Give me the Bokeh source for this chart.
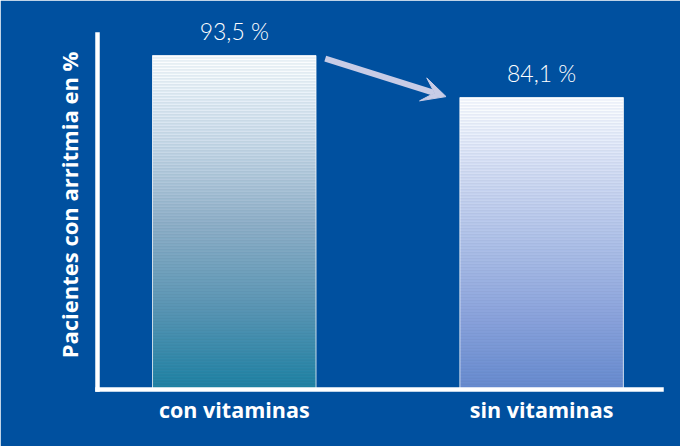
from bokeh.plotting import figure
from bokeh.models import Range1d, FixedTicker, Label, Arrow, VeeHead
from bokeh.embed import file_html
from bokeh.resources import INLINE

# ---- data ----
categories = ["con vitaminas", "sin vitaminas"]
values = [93.5, 84.1]
value_labels = ["93,5 %", "84,1 %"]
y_label = "Pacientes con arritmia en %"

BG = "#00509f"
Y0, Y1 = 18.75, 101.33
Y_AXIS_TOP = 98.2
BAR_W = 0.532
TOP_BORDER, BOTTOM_BORDER = 20, 57
FRAME_H = 446 - TOP_BORDER - BOTTOM_BORDER

# gradient stops (top -> bottom) per bar
stops = [
    [(250, 252, 254), (204, 218, 231), (142, 172, 196), (88, 145, 175), (24, 124, 158)],
    [(250, 252, 254), (208, 217, 238), (170, 188, 226), (134, 158, 214), (96, 132, 200)],
]


def interp(st, t):
    t = min(max(t, 0.0), 1.0)
    seg = t * (len(st) - 1)
    i = min(int(seg), len(st) - 2)
    f = seg - i
    a, b = st[i], st[i + 1]
    return tuple(a[k] + (b[k] - a[k]) * f for k in range(3))


def hexc(c):
    return "#%02x%02x%02x" % tuple(int(round(x)) for x in c)


p = figure(width=680, height=446, output_backend="svg", toolbar_location=None,
           x_range=Range1d(-0.445, 1.39), y_range=Range1d(Y0, Y1),
           min_border_left=97, min_border_right=19,
           min_border_top=TOP_BORDER, min_border_bottom=BOTTOM_BORDER)
p.background_fill_color = BG
p.border_fill_color = BG
p.outline_line_color = BG
p.outline_line_width = 1.5
p.grid.visible = False

# ---- gradient striped bars (overlapping one-pixel slices, drawn bottom-up) ----
step = (Y1 - Y0) / FRAME_H
L, R, B, T, C = [], [], [], [], []
for i, v in enumerate(values):
    n = int((v - Y0) / step) + 1
    for k in range(n):
        bot = Y0 + k * step
        if bot >= v:
            break
        top = min(bot + 1.6 * step, v)
        t = 1.0 - (bot + 0.5 * step - Y0) / (v - Y0)
        c = interp(stops[i], t)
        if k % 3 == 1:
            d = stops[i][3]
            c = tuple(c[j] * 0.8 + d[j] * 0.2 for j in range(3))
        elif k % 3 == 0:
            c = tuple(min(255, c[j] * 1.03 + 4) for j in range(3))
        L.append(i - BAR_W / 2)
        R.append(i + BAR_W / 2)
        B.append(bot)
        T.append(top)
        C.append(hexc(c))
p.quad(left=L, right=R, bottom=B, top=T, fill_color=C, line_color=None)

# bar outlines
xs = list(range(len(categories)))
p.quad(left=[x - BAR_W / 2 for x in xs], right=[x + BAR_W / 2 for x in xs],
       bottom=[Y0] * len(xs), top=values, fill_color=None,
       line_color="white", line_alpha=0.75, line_width=1)

# value labels
for x, v, t in zip(xs, values, value_labels):
    p.add_layout(Label(x=x, y=v, text=t, text_align="center",
                       text_baseline="alphabetic", y_offset=24, text_color="white",
                       text_font="Lato Light", text_font_size="23px"))

# arrow between bars
arrow = Arrow(end=VeeHead(size=24, fill_color="#c8cce6", line_color="#c8cce6", line_width=1),
              x_start=0 + BAR_W / 2 + 0.03, y_start=values[0] - 0.7,
              x_end=1 - BAR_W / 2 - 0.045, y_end=values[1] + 0.2,
              line_color="#c8cce6", line_width=6)
p.add_layout(arrow)

# axes
p.xaxis.ticker = FixedTicker(ticks=xs)
p.xaxis.major_label_overrides = {i: c for i, c in enumerate(categories)}
p.xaxis.major_tick_line_color = None
p.xaxis.minor_tick_line_color = None
p.xaxis.major_tick_out = 0
p.xaxis.major_label_standoff = 5
p.xaxis.major_label_text_color = "white"
p.xaxis.major_label_text_font = "Open Sans"
p.xaxis.major_label_text_font_style = "bold"
p.xaxis.major_label_text_font_size = "21.5px"

p.yaxis.ticker = FixedTicker(ticks=[])
p.yaxis.bounds = (Y0, Y_AXIS_TOP)
p.yaxis.major_tick_line_color = None
p.yaxis.minor_tick_line_color = None
p.yaxis.axis_label = y_label
p.yaxis.axis_label_text_color = "white"
p.yaxis.axis_label_text_font = "Open Sans"
p.yaxis.axis_label_text_font_style = "bold"
p.yaxis.axis_label_text_font_size = "22px"
p.yaxis.axis_label_standoff = 14

for ax in (p.xaxis, p.yaxis):
    ax.axis_line_color = "white"
    ax.axis_line_width = 4.5
    ax.axis_line_cap = "square"

open("out.html", "w").write(file_html(p, INLINE))
